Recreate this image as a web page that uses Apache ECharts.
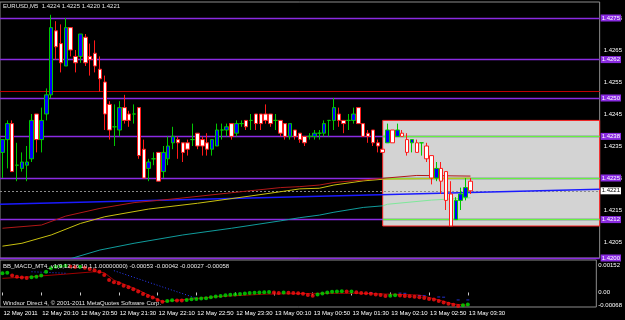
<!DOCTYPE html>
<html><head><meta charset="utf-8">
<script src="https://cdn.jsdelivr.net/npm/echarts@6/dist/echarts.min.js"></script>
<style>html,body{margin:0;padding:0;background:#000;}#c{width:625px;height:320px;}</style>
</head><body><div id="c"></div>
<script>
// ---- texts ----
const symbolTitle = 'EURUSD,M5  1.4224 1.4225 1.4220 1.4221';
const indicatorTitle = 'BB_MACD_MT4_v1(9,12,26,10,1,1.00000000) -0.00053 -0.00042 -0.00027 -0.00058';
const copyright = 'Windsor Direct 4, \u00a9 2001-2011 MetaQuotes Software Corp.';
// ---- time axis ----
const firstBarMinutes = 19 * 60 + 30;   // 12 May 19:30, M5 bars
const slotCount = 123;                  // 97 bars + empty chart shift
const timeTickLabels = ['12 May 2011','12 May 20:10','12 May 20:50','12 May 21:30','12 May 22:10','12 May 22:50','12 May 23:30','13 May 00:10','13 May 00:50','13 May 01:30','13 May 02:10','13 May 02:50','13 May 03:30'];
const priceTickLabels = [1.4205,1.4215,1.4225,1.4235,1.4245,1.4255,1.4265,1.4275];
const macdTickLabels = [-0.00068, 0, 0.00152];
// ---- OHLC ----
const open  = [1.4233,1.4237,1.4242,1.4229,1.4228,1.4229,1.4231,1.4245,1.4237,1.4245,1.4251,1.4271,1.4267,1.4260,1.4272,1.4263,1.4263,1.4269,1.4263,1.4264,1.4259,1.4255,1.4248,1.4241,1.4240,1.4247,1.4245,1.4245,1.4247,1.4234,1.4228,1.4231,1.4233,1.4227,1.4231,1.4236,1.4237,1.4236,1.4236,1.4237,1.4239,1.4237,1.4236,1.4234,1.4235,1.4240,1.4240,1.4242,1.4239,1.4242,1.4243,1.4243,1.4245,1.4245,1.4245,1.4245,1.4243,1.4243,1.4242,1.4238,1.4240,1.4239,1.4238,1.4238,1.4238,1.4239,1.4239,1.4243,1.4243,1.4245,1.4243,1.4243,1.4243,1.4247,1.4242,1.4239,1.4240,1.4236,1.4234,1.4236,1.4240,1.4238,1.4239,1.4237,1.4236,1.4236,1.4236,1.4235,1.4232,1.4225,1.4228,1.4227,1.4220,1.4212,1.4218,1.4219,1.4224];
const high  = [1.4237,1.4243,1.4243,1.4236,1.4233,1.4235,1.4245,1.4245,1.4247,1.4253,1.4276,1.4274,1.4273,1.4275,1.4272,1.4265,1.4270,1.4270,1.4267,1.4268,1.4263,1.4257,1.4249,1.4248,1.4249,1.4251,1.4246,1.4248,1.4247,1.4237,1.4231,1.4233,1.4233,1.4235,1.4238,1.4241,1.4238,1.4236,1.4237,1.4242,1.4239,1.4238,1.4239,1.4237,1.4242,1.4242,1.4242,1.4242,1.4243,1.4243,1.4243,1.4245,1.4245,1.4245,1.4248,1.4245,1.4245,1.4243,1.4242,1.4242,1.4240,1.4239,1.4238,1.4239,1.4240,1.4240,1.4243,1.4243,1.4250,1.4247,1.4243,1.4245,1.4247,1.4247,1.4242,1.4240,1.4240,1.4237,1.4235,1.4242,1.4240,1.4242,1.4240,1.4239,1.4237,1.4237,1.4236,1.4236,1.4232,1.4230,1.4230,1.4227,1.4224,1.4219,1.4222,1.4225,1.4225];
const low   = [1.4225,1.4228,1.4227,1.4224,1.4227,1.4224,1.4230,1.4233,1.4233,1.4243,1.4250,1.4262,1.4258,1.4260,1.4263,1.4258,1.4261,1.4260,1.4257,1.4258,1.4252,1.4240,1.4237,1.4235,1.4238,1.4242,1.4241,1.4242,1.4231,1.4225,1.4224,1.4229,1.4224,1.4225,1.4229,1.4234,1.4231,1.4230,1.4232,1.4235,1.4234,1.4232,1.4232,1.4232,1.4235,1.4237,1.4238,1.4237,1.4238,1.4241,1.4240,1.4240,1.4240,1.4240,1.4242,1.4241,1.4240,1.4238,1.4237,1.4237,1.4237,1.4236,1.4235,1.4237,1.4237,1.4237,1.4238,1.4238,1.4240,1.4241,1.4239,1.4240,1.4242,1.4242,1.4238,1.4236,1.4235,1.4233,1.4233,1.4236,1.4236,1.4238,1.4238,1.4232,1.4233,1.4233,1.4232,1.4230,1.4223,1.4224,1.4220,1.4215,1.4210,1.4212,1.4215,1.4218,1.4220];
const close = [1.4237,1.4242,1.4227,1.4229,1.4230,1.4230,1.4243,1.4237,1.4243,1.4251,1.4272,1.4266,1.4261,1.4272,1.4265,1.4261,1.4270,1.4261,1.4262,1.4260,1.4256,1.4245,1.4240,1.4241,1.4247,1.4243,1.4243,1.4245,1.4232,1.4225,1.4230,1.4231,1.4224,1.4233,1.4235,1.4238,1.4236,1.4233,1.4234,1.4237,1.4235,1.4235,1.4234,1.4237,1.4240,1.4240,1.4241,1.4238,1.4242,1.4242,1.4241,1.4243,1.4242,1.4242,1.4243,1.4242,1.4243,1.4239,1.4238,1.4242,1.4238,1.4237,1.4236,1.4238,1.4239,1.4239,1.4242,1.4243,1.4247,1.4243,1.4242,1.4243,1.4245,1.4242,1.4238,1.4238,1.4236,1.4235,1.4233,1.4240,1.4236,1.4240,1.4238,1.4233,1.4237,1.4233,1.4236,1.4231,1.4225,1.4228,1.4224,1.4218,1.4210,1.4218,1.4220,1.4222,1.4221];
// ---- indicator lines on price chart: [bar, price] readings ----
const maRed    = [[0,1.42093],[8,1.42103],[13,1.42131],[20,1.42155],[27,1.42173],[36,1.42186],[47,1.42204],[57,1.42220],[61,1.42223],[65,1.42228],[68,1.42236],[78,1.42249],[85,1.42258],[96,1.42256]];
const maYellow = [[0,1.42037],[4,1.42046],[10,1.42072],[16,1.42108],[21,1.42129],[30,1.42153],[40,1.42171],[51,1.42194],[57,1.42207],[61,1.42216],[65,1.42218],[68,1.42228],[74,1.42241],[78,1.42246],[96,1.42250]];
const maCyan   = [[14,1.41998],[20,1.42025],[27,1.42046],[37,1.42072],[47,1.42093],[57,1.42116],[61,1.42126],[65,1.42134],[68,1.42143],[74,1.42158],[78,1.42163]];
const maCyanInBox = [[78,1.42163],[79,1.42168],[88,1.42181],[96,1.42188]];
const blueRay  = [[-0.5,1.42168],[122.5,1.42215]];
// ---- horizontal levels / box ----
const purpleLevels = [1.4275,1.4262,1.4250,1.4238,1.4225,1.4212,1.4200];
const levelsInBox  = [1.4238,1.4225,1.4212];
const redLevel = 1.4252;
const bidLevel = 1.4221;
const boxStartBar = 78, boxEndBar = 122.5, boxTop = 1.4243, boxBottom = 1.4210;
// ---- BB MACD subwindow ----
const macd = [0.00090,0.00092,0.00080,0.00074,0.00070,0.00068,0.00071,0.00074,0.00080,0.00097,0.00113,0.00120,0.00123,0.00125,0.00122,0.00119,0.00120,0.00116,0.00110,0.00104,0.00097,0.00082,0.00058,0.00048,0.00043,0.00032,0.00024,0.00015,0.00004,-0.00007,-0.00016,-0.00024,-0.00035,-0.00043,-0.00040,-0.00036,-0.00037,-0.00038,-0.00035,-0.00032,-0.00030,-0.00028,-0.00027,-0.00022,-0.00019,-0.00016,-0.00013,-0.00011,-0.00009,-0.00007,-0.00005,-0.00003,-0.00001,0.00000,0.00001,0.00002,0.00000,-0.00002,0.00000,-0.00001,-0.00003,-0.00004,-0.00006,-0.00012,-0.00015,-0.00009,-0.00005,0.00000,0.00003,0.00005,0.00006,0.00004,0.00005,0.00001,-0.00002,-0.00004,-0.00006,-0.00009,-0.00012,-0.00017,-0.00015,-0.00013,-0.00014,-0.00016,-0.00018,-0.00020,-0.00022,-0.00026,-0.00030,-0.00033,-0.00040,-0.00047,-0.00053,-0.00058,-0.00063,-0.00060,-0.00056];
const macdSignal = [[0,0.00066],[6,0.00074],[13,0.00086],[19,0.00097],[21,0.00093],[23,0.00058],[28,0.00012],[33,-0.00043],[38,-0.00032],[44,-0.00020],[54,-0.00008],[65,-0.00004],[74,-0.00004],[86,-0.00012],[90,-0.00035],[93,-0.00054],[96,-0.00060]];
const bandUpper = [[6,0.00097],[13,0.00090],'-',[23,0.00102],[40,-0.00027]];
const bandDots  = [[76,0.00000],[82,-0.00003],[83,-0.00004],[86,-0.00014],[87,-0.00015],[90,-0.00021],[91,-0.00022],[94,-0.00035],[96,-0.00035]];

// ---- build ----
const FONT = 'Liberation Sans';
const categories = [];
for (let i = 0; i < slotCount; i++) {
  const m = (firstBarMinutes + 5 * i) % 1440;
  categories.push(String(Math.floor(m / 60)).padStart(2, '0') + ':' + String(m % 60).padStart(2, '0'));
}
const ohlc = open.map((o, i) => [o, close[i], low[i], high[i]]);
const isTick = (idx) => idx % 8 === 0 && idx / 8 < timeTickLabels.length;

const levelLabel = (bg, fg) => ({
  show: true, position: 'end', distance: 1, formatter: (p) => Number(p.value).toFixed(4),
  backgroundColor: bg, color: fg, fontSize: 6, fontFamily: FONT, padding: [1, 1, 0, 1]
});
const markLineData = [];
purpleLevels.forEach(v => markLineData.push({ yAxis: v, lineStyle: { color: '#8a2be2', width: 1.3, type: 'solid' }, label: levelLabel('#8a2be2', '#ffffff') }));
markLineData.push({ yAxis: redLevel, lineStyle: { color: '#c00000', width: 1, type: 'solid' }, label: { show: false } });
levelsInBox.forEach(v => markLineData.push([{ coord: [boxStartBar, v], lineStyle: { color: '#66f040', width: 1.3, type: 'solid' }, label: { show: false } }, { coord: [boxEndBar, v] }]));
markLineData.push({ yAxis: bidLevel, lineStyle: { color: '#8c8c8c', width: 1, type: [2, 2] }, label: levelLabel('#ffffff', '#000000') });

const option = {
  backgroundColor: '#000000',
  animation: false,
  title: [
    { text: symbolTitle, left: 3, top: 3, padding: 0, textStyle: { color: '#e8e8e8', fontSize: 6, fontWeight: 'normal', fontFamily: FONT } },
    { text: indicatorTitle, left: 3, top: 263, padding: 0, textStyle: { color: '#e8e8e8', fontSize: 6, fontWeight: 'normal', fontFamily: FONT } },
    { text: copyright, left: 3, top: 300, padding: 0, textStyle: { color: '#e8e8e8', fontSize: 6, fontWeight: 'normal', fontFamily: FONT } }
  ],
  grid: [
    { left: 0, top: 2, width: 603, height: 256, show: true, borderColor: '#8c8c8c', borderWidth: 1, backgroundColor: 'transparent' },
    { left: 0, top: 260, width: 603, height: 47, show: true, borderColor: '#8c8c8c', borderWidth: 1, backgroundColor: 'transparent' }
  ],
  xAxis: [
    { type: 'category', gridIndex: 0, data: categories, boundaryGap: true, show: false },
    { type: 'value', gridIndex: 0, min: -0.5, max: slotCount - 0.5, show: false },
    { type: 'category', gridIndex: 1, data: categories, boundaryGap: true, position: 'bottom',
      axisLine: { show: false },
      axisTick: { show: true, alignWithLabel: true, interval: (i) => isTick(i), length: 3, lineStyle: { color: '#c8c8c8' } },
      axisLabel: { show: true, interval: (i) => isTick(i), formatter: (v, i) => timeTickLabels[i / 8], align: 'left', margin: 3,
        color: '#ffffff', fontSize: 6, fontFamily: FONT, padding: [0, 0, 0, 1] },
      splitLine: { show: false } },
    { type: 'value', gridIndex: 1, min: -0.5, max: slotCount - 0.5, show: false }
  ],
  yAxis: [
    { type: 'value', gridIndex: 0, position: 'right', min: 1.4200, max: 1.4280, scale: true,
      axisLine: { show: false }, splitLine: { show: false },
      axisTick: { show: false },
      axisLabel: { show: true, customValues: priceTickLabels, formatter: (v) => v.toFixed(4), margin: 4, color: '#ffffff', fontSize: 6, fontFamily: FONT } },
    { type: 'value', gridIndex: 1, position: 'right', min: -0.00068, max: 0.00152, scale: true,
      axisLine: { show: false }, splitLine: { show: false },
      axisTick: { show: false },
      axisLabel: { show: true, customValues: macdTickLabels, margin: 2, color: '#ffffff', fontSize: 6, fontFamily: FONT,
        formatter: (v) => v === 0 ? '0.00' : (v > 0 ? '{t|' + v.toFixed(5) + '}' : '{b|' + v.toFixed(5) + '}'),
        rich: { t: { padding: [11, 0, 0, 0], fontSize: 6, color: '#ffffff', fontFamily: FONT }, b: { padding: [0, 0, 4, 0], fontSize: 6, color: '#ffffff', fontFamily: FONT } } } }
  ],
  series: [
    { name: 'objects', type: 'line', xAxisIndex: 1, yAxisIndex: 0, data: [], z: 1, silent: true,
      markArea: { silent: true, z: 1, itemStyle: { color: '#d3d3d3', borderColor: '#ff2020', borderWidth: 1 },
        data: [[{ xAxis: boxStartBar, yAxis: boxTop }, { xAxis: boxEndBar, yAxis: boxBottom }]] },
      markLine: { silent: true, z: 3, symbol: 'none', precision: 6, animation: false, data: markLineData } },
    { name: 'blue', type: 'line', xAxisIndex: 1, yAxisIndex: 0, data: blueRay, showSymbol: false, z: 4, lineStyle: { color: '#1a1aff', width: 1.5 } },
    { name: 'maCyan', type: 'line', xAxisIndex: 1, yAxisIndex: 0, data: maCyan, showSymbol: false, z: 4, lineStyle: { color: '#109c9c', width: 1 } },
    { name: 'maCyan2', type: 'line', xAxisIndex: 1, yAxisIndex: 0, data: maCyanInBox, showSymbol: false, z: 4, lineStyle: { color: '#7ee89a', width: 1 } },
    { name: 'maYellow', type: 'line', xAxisIndex: 1, yAxisIndex: 0, data: maYellow, showSymbol: false, z: 4, lineStyle: { color: '#c8c010', width: 1 } },
    { name: 'maRed', type: 'line', xAxisIndex: 1, yAxisIndex: 0, data: maRed, showSymbol: false, z: 4, lineStyle: { color: '#b01818', width: 1 } },
    { name: 'price', type: 'candlestick', xAxisIndex: 0, yAxisIndex: 0, data: ohlc, barWidth: 4, z: 10,
      itemStyle: { color: '#0000ff', color0: '#ffffff', borderColor: '#00c800', borderColor0: '#ff1a1a', borderColorDoji: '#00c800', borderWidth: 1 } },
    // subwindow
    { name: 'signal', type: 'line', xAxisIndex: 3, yAxisIndex: 1, data: macdSignal, showSymbol: false, z: 3, lineStyle: { color: '#a00000', width: 1 } },
    { name: 'band', type: 'line', xAxisIndex: 3, yAxisIndex: 1, data: bandUpper, showSymbol: false, z: 3, connectNulls: false, lineStyle: { color: '#2a3cff', width: 1, type: [1, 2] } },
    { name: 'bandDots', type: 'scatter', xAxisIndex: 3, yAxisIndex: 1, data: bandDots, symbol: 'rect', symbolSize: [3, 1], z: 3, itemStyle: { color: '#2a3cff' } },
    { name: 'macd', type: 'scatter', xAxisIndex: 2, yAxisIndex: 1, data: macd, symbol: 'circle', symbolSize: 4, z: 5,
      itemStyle: { color: (p) => (p.dataIndex > 0 && macd[p.dataIndex] >= macd[p.dataIndex - 1]) || p.dataIndex === 0 ? '#00e000' : '#ff1010' } }
  ]
};
const chart = echarts.init(document.getElementById('c'), null, { renderer: 'canvas' });
chart.setOption(option);
</script></body></html>
